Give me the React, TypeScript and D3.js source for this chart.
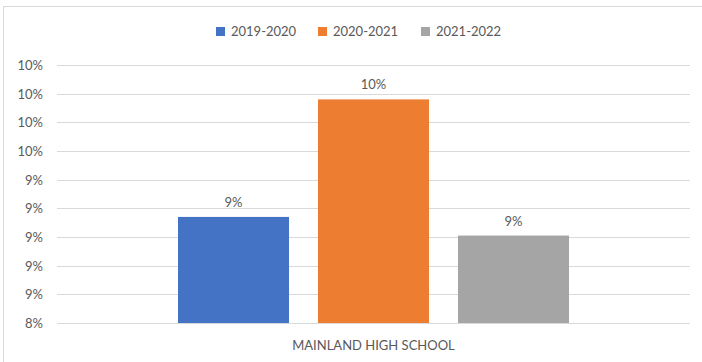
import { useEffect, useRef } from "react";
import * as d3 from "d3";

const categories = ["MAINLAND HIGH SCHOOL"];
const seriesNames = ["2019-2020", "2020-2021", "2021-2022"];
const seriesValues = [0.0914, 0.0996, 0.0901];
const dataLabels = ["9%", "10%", "9%"];
const tickValues = [0.084, 0.086, 0.088, 0.09, 0.092, 0.094, 0.096, 0.098, 0.1, 0.102];
const tickLabels = ["8%", "9%", "9%", "9%", "9%", "9%", "10%", "10%", "10%", "10%"];

const COLORS = ["#4472C4", "#ED7D31", "#A5A5A5"];
const FONT = "Lato, 'Open Sans', sans-serif";
const TEXT = "#595959";

export default function App() {
  const ref = useRef<SVGSVGElement>(null);

  useEffect(() => {
    document.body.style.margin = "0";
    if (!ref.current) return;

    const width = 702;
    const height = 362;
    const left = 57;
    const right = 690;
    const top = 65;
    const bottom = 323;

    const svg = d3.select(ref.current);
    svg.selectAll("*").remove();

    svg.attr("width", width).attr("height", height);

    // chart border
    svg.append("rect")
      .attr("x", 3.5)
      .attr("y", 6.5)
      .attr("width", 710)
      .attr("height", 370)
      .attr("fill", "#fff")
      .attr("stroke", "#D9D9D9");

    const y = d3.scaleLinear().domain([0.084, 0.102]).range([bottom, top]);

    const x0 = d3.scaleBand<string>()
      .domain(categories)
      .range([left, right])
      .paddingInner(0)
      .paddingOuter(0.3095);

    const x1 = d3.scaleBand<string>()
      .domain(seriesNames)
      .range([0, x0.bandwidth()])
      .paddingInner(0.207)
      .paddingOuter(0);

    // gridlines + tick labels
    const grid = svg.append("g");
    tickValues.forEach((t, i) => {
      const yy = Math.round(y(t)) + 0.5;
      grid.append("line")
        .attr("x1", left)
        .attr("x2", right)
        .attr("y1", yy)
        .attr("y2", yy)
        .attr("stroke", "#D9D9D9")
        .attr("stroke-width", 1);
      grid.append("text")
        .attr("x", 43)
        .attr("y", yy)
        .attr("dy", "0.35em")
        .attr("text-anchor", "end")
        .style("font-family", FONT)
        .style("font-size", "13px")
        .style("fill", TEXT)
        .text(tickLabels[i]);
    });

    // bars
    const bars = svg.append("g");
    categories.forEach((c) => {
      seriesNames.forEach((s, i) => {
        const bx = x0(c)! + x1(s)!;
        const by = y(seriesValues[i]);
        bars.append("rect")
          .attr("x", bx)
          .attr("y", by)
          .attr("width", x1.bandwidth())
          .attr("height", bottom - by)
          .attr("fill", COLORS[i]);
        bars.append("text")
          .attr("x", bx + x1.bandwidth() / 2)
          .attr("y", by - 10)
          .attr("text-anchor", "middle")
          .style("font-family", FONT)
          .style("font-size", "13px")
          .style("fill", TEXT)
          .text(dataLabels[i]);
      });

      svg.append("text")
        .attr("x", x0(c)! + x0.bandwidth() / 2)
        .attr("y", 350)
        .attr("text-anchor", "middle")
        .style("font-family", FONT)
        .style("font-size", "13px")
        .style("fill", TEXT)
        .text(c);
    });

    // legend
    const legendX = [216, 318, 421];
    const legend = svg.append("g");
    seriesNames.forEach((s, i) => {
      legend.append("rect")
        .attr("x", legendX[i])
        .attr("y", 27)
        .attr("width", 9)
        .attr("height", 9)
        .attr("fill", COLORS[i]);
      legend.append("text")
        .attr("x", legendX[i] + 15)
        .attr("y", 31.5)
        .attr("dy", "0.35em")
        .style("font-family", FONT)
        .style("font-size", "13px")
        .style("fill", TEXT)
        .text(s);
    });
  }, []);

  return <svg ref={ref} style={{ display: "block" }} />;
}
